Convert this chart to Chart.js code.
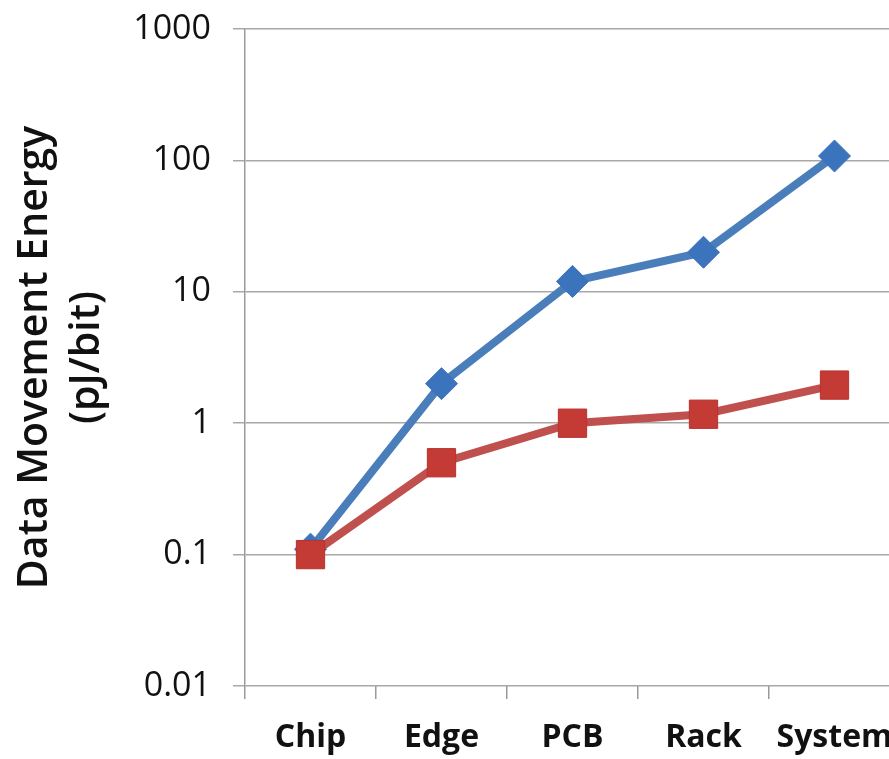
<!DOCTYPE html>
<html>
<head>
<meta charset="utf-8">
<script src="https://cdn.jsdelivr.net/npm/chart.js@4.4.1/dist/chart.umd.min.js"></script>
<style>
  html, body { margin: 0; padding: 0; background: #fff; overflow: hidden; }
  canvas { display: block; }
</style>
</head>
<body>
<canvas id="energyChart" width="921" height="759"></canvas>
<script>
// Data
const categories = ['Chip', 'Edge', 'PCB', 'Rack', 'System'];
const upperSeries = [0.11, 2.0, 12, 20, 108];   // blue diamonds
const lowerSeries = [0.1, 0.5, 1.0, 1.17, 1.95]; // red squares
const yTicks = [0.01, 0.1, 1, 10, 100, 1000];
const yTitle = ['Data Movement Energy', '(pJ/bit)'];

const ctx = document.getElementById('energyChart');

new Chart(ctx, {
  type: 'line',
  data: {
    labels: categories,
    datasets: [{
      label: 'Upper',
      data: upperSeries,
      order: 2,
      borderColor: '#4a7ebb',
      borderWidth: 8,
      pointStyle: 'rectRot',
      pointRadius: 16,
      pointBackgroundColor: '#3b73bd',
      pointBorderColor: '#3b73bd',
      pointBorderWidth: 1,
      tension: 0
    }, {
      label: 'Lower',
      data: lowerSeries,
      order: 1,
      borderColor: '#c0504d',
      borderWidth: 8,
      pointStyle: 'rect',
      pointRadius: 20,
      pointBackgroundColor: '#c43a35',
      pointBorderColor: '#b8312d',
      pointBorderWidth: 1,
      tension: 0
    }]
  },
  options: {
    responsive: false,
    animation: false,
    layout: {
      padding: { top: 29, right: 10, left: 0, bottom: 0 }
    },
    plugins: {
      legend: { display: false },
      tooltip: { enabled: false }
    },
    scales: {
      x: {
        type: 'category',
        offset: true,
        afterFit: function(scale) {
          scale.height = 73;
          scale.paddingLeft = 0;
          scale.paddingRight = 0;
        },
        grid: {
          offset: true,
          drawOnChartArea: false,
          drawTicks: true,
          tickLength: 13,
          color: '#9a9a9a',
          lineWidth: 1.5
        },
        border: { display: false },
        ticks: {
          color: '#111',
          padding: 20,
          font: { family: 'Open Sans', size: 32, weight: 'bold' }
        }
      },
      y: {
        type: 'logarithmic',
        min: 0.01,
        max: 1000,
        afterFit: function(scale) {
          scale.width = 245;
          scale.paddingTop = 0;
          scale.paddingBottom = 0;
        },
        afterBuildTicks: function(scale) {
          scale.ticks = yTicks.map(v => ({ value: v }));
        },
        grid: {
          color: '#a8a8a8',
          lineWidth: 1.5,
          tickLength: 12
        },
        border: { color: '#9a9a9a', width: 1.5 },
        ticks: {
          color: '#111',
          padding: 22,
          font: { family: 'Open Sans', size: 34 },
          callback: function(value) {
            return String(value);
          }
        },
        title: {
          display: true,
          text: yTitle,
          color: '#111',
          padding: { top: 9, bottom: 0 },
          font: { family: 'Open Sans', size: 41, weight: '600', lineHeight: 1.28 }
        }
      }
    }
  }
});
</script>
</body>
</html>
